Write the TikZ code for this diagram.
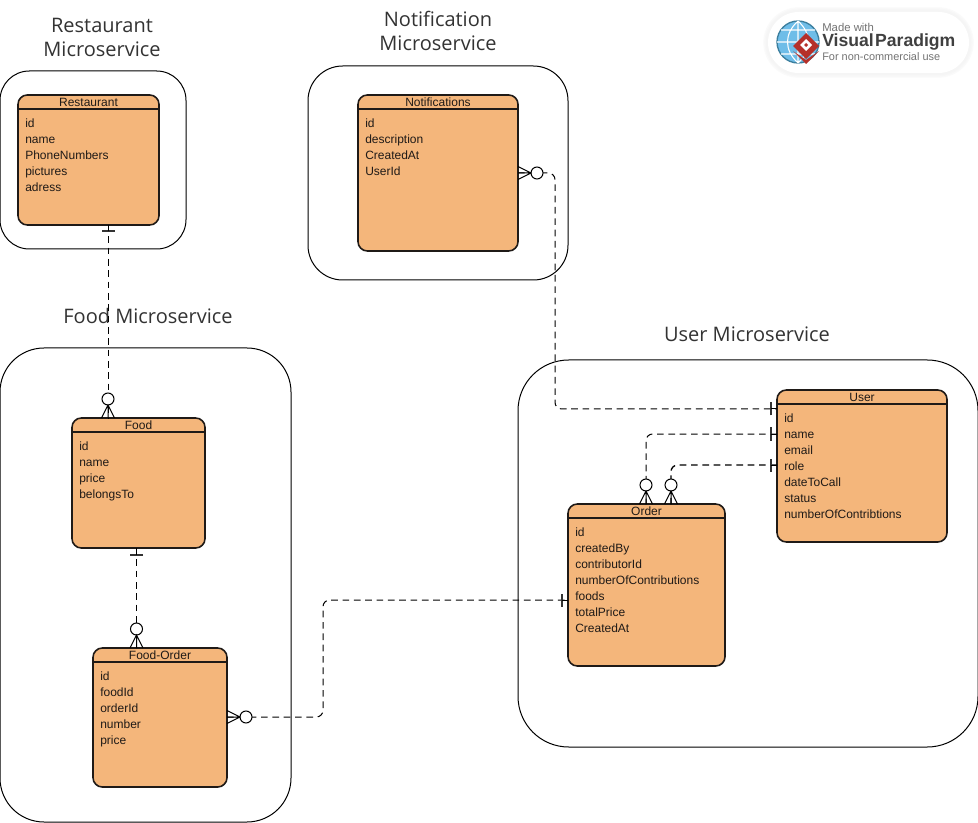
\documentclass[tikz,border=0pt]{standalone}
\usepackage{fontspec}
\setmainfont{Liberation Sans}
\newfontfamily\titlefont{Open Sans}
\usetikzlibrary{calc}
\definecolor{entfill}{HTML}{F4B67B}
\definecolor{inkc}{HTML}{1F1A17}
\definecolor{globefill}{HTML}{6FBDE8}
\definecolor{globeline}{HTML}{3C7F9E}
\definecolor{vpred}{HTML}{B5302A}
\newcommand{\entity}[7]{%
  \node[entitybox,minimum width=#4*0.75pt,minimum height=#5*0.75pt] (#1) at (#2,#3) {};
  \draw[entityline] ($(#1.north west)+(0,14)$) -- ($(#1.north east)+(0,14)$);
  \node[entitytitle] (#1-title) at ($(#1.north)+(0,7)$) {#6};
  \node[attrs] (#1-attrs) at ($(#1.north west)+(1,24)$) {#7};
}
\tikzset{
  x=0.75pt,y=-0.75pt,
  container/.style={draw=black,line width=0.75pt,fill=white,rounded corners=#1,anchor=north west,inner sep=0pt,outer sep=0pt},
  entitybox/.style={draw=inkc,line width=1.2pt,fill=entfill,rounded corners=7pt,anchor=north west,inner sep=0pt,outer sep=0pt},
  entityline/.style={draw=inkc,line width=1pt},
  entitytitle/.style={font=\fontsize{9}{10}\selectfont,text=inkc,inner sep=0pt},
  attrs/.style={font=\fontsize{9}{12}\selectfont,text=inkc,align=left,anchor=north west,inner xsep=4.5pt,inner ysep=0pt},
  conn/.style={draw=black,line width=0.75pt,dash pattern=on 5pt off 3.5pt,rounded corners=5pt},
  grouptitle/.style={font=\titlefont\fontsize{15}{18}\selectfont,text=black!80,align=center,inner sep=0pt},
  crowzero/.pic={
    \draw[line width=0.75pt,fill=white] (0,-19) circle[radius=6];
    \draw[line width=0.75pt] (0,-13) -- (0,0) (-6.5,0) -- (0,-13) -- (6.5,0);
  },
  onebar/.pic={
    \draw[line width=1.5pt,draw=black!80] (-6.5,-6.5) -- (6.5,-6.5);
    \draw[line width=0.75pt] (0,-6.5) -- (0,0);
  },
}
\begin{document}
\begin{tikzpicture}
\useasboundingbox (0,0) rectangle (978,823);
\fill[white] (0,0) rectangle (978,823);
% containers
\node[container=22pt,minimum width=186*0.75pt,minimum height=178*0.75pt] (restbox) at (0,71) {};
\node[container=26pt,minimum width=260*0.75pt,minimum height=214*0.75pt] (notifbox) at (308,66) {};
\node[container=33pt,minimum width=291*0.75pt,minimum height=474*0.75pt] (foodbox) at (0,348) {};
\node[container=38pt,minimum width=460*0.75pt,minimum height=387*0.75pt] (userbox) at (518,360) {};
% group titles
\node[grouptitle] (restname) at (102,37) {Restaurant\\Microservice};
\node[grouptitle] (notifname) at (438,31) {Notification\\Microservice};
\node[grouptitle] (foodname) at (148,316) {Food Microservice};
\node[grouptitle] (username) at (747,334) {User Microservice};
% entities
\entity{rest}{18}{95}{141}{130}{Restaurant}{id\\name\\PhoneNumbers\\pictures\\adress}
\entity{notif}{358}{95}{160}{156}{Notifications}{id\\description\\CreatedAt\\UserId}
\entity{food}{72}{418}{133}{130}{Food}{id\\name\\price\\belongsTo}
\entity{foodorder}{93}{648}{134}{139}{Food-Order}{id\\foodId\\orderId\\number\\price}
\entity{user}{777}{390}{170}{152}{User}{id\\name\\email\\role\\dateToCall\\status\\numberOfContribtions}
\entity{order}{568}{504}{157}{162}{Order}{id\\createdBy\\contributorId\\numberOfContributions\\foods\\totalPrice\\CreatedAt}
% connector ports
\coordinate (pRest) at ($(rest.south west)+(90,0)$);
\coordinate (pFoodTop) at ($(food.north west)+(36,0)$);
\coordinate (pFoodBot) at ($(food.south west)+(64.5,0)$);
\coordinate (pFoTop) at ($(foodorder.north west)+(43.5,0)$);
\coordinate (pFoRight) at ($(foodorder.north east)+(0,69)$);
\coordinate (pOrderLeft) at ($(order.north west)+(0,96)$);
\coordinate (pNotif) at ($(notif.north east)+(0,78)$);
\coordinate (pUser1) at ($(user.north west)+(0,19)$);
\coordinate (pUser2) at ($(user.north west)+(0,44)$);
\coordinate (pUser3) at ($(user.north west)+(0,75)$);
\coordinate (pOrder1) at ($(order.north west)+(78,0)$);
\coordinate (pOrder2) at ($(order.north west)+(103,0)$);
\coordinate (midFo) at (323,660);
\coordinate (midNotif) at (555,300);
% connectors
\draw[conn] (pRest) -- (pFoodTop);
\draw[conn] (pFoodBot) -- (pFoTop);
\draw[conn] (pFoRight) -| (midFo) |- (pOrderLeft);
\draw[conn] (pNotif) -| (midNotif) |- (pUser1);
\draw[conn] (pUser2) -| (pOrder1);
\draw[conn,line width=1pt] (pUser3) -| (pOrder2);
% ends
\pic at (pFoodTop) {crowzero};
\pic at (pFoTop) {crowzero};
\pic[rotate=-90] at (pFoRight) {crowzero};
\pic[rotate=-90] at (pNotif) {crowzero};
\pic at (pOrder1) {crowzero};
\pic at (pOrder2) {crowzero};
\pic[rotate=180] at (pRest) {onebar};
\pic[rotate=180] at (pFoodBot) {onebar};
\pic[rotate=90] at (pUser1) {onebar};
\pic[rotate=90] at (pUser2) {onebar};
\pic[rotate=90] at (pUser3) {onebar};
\pic[rotate=90] at (pOrderLeft) {onebar};
% badge
\foreach \w/\c in {7/98,5/97,3/96}{
  \draw[line width=\w pt,draw=white!\c!black,rounded corners=23pt] (768,12) rectangle (969,73);
}
\node[fill=white,rounded corners=23pt,minimum width=201*0.75pt,minimum height=61*0.75pt,anchor=north west,inner sep=0pt,outer sep=0pt] (badge) at (768,12) {};
\fill[globefill] (798,42) circle[radius=21];
\draw[line width=1pt,draw=globeline] (798,42) circle[radius=21];
\draw[white,line width=0.8pt] (798,21) -- (798,63) (777,42) -- (819,42)
  (798,21) .. controls (784,34) and (784,50) .. (798,63)
  (798,21) .. controls (812,34) and (812,50) .. (798,63)
  (781,30) -- (815,30) (781,54) -- (815,54);
\fill[vpred] (806,33) -- (819,46) -- (806,59) -- (793,46) -- cycle;
\fill[vpred] (793,51) -- (806,64) -- (819,51) -- (806,60) -- cycle;
\fill[white] (806,39) -- (812,45) -- (806,51) -- (800,45) -- cycle;
\fill[vpred] (806,43) -- (808,45) -- (806,47) -- (804,45) -- cycle;
\node[anchor=west,inner sep=0pt,text=black!55,font=\fontsize{8.5}{10}\selectfont] (madewith) at (822,27) {Made with};
\node[anchor=west,inner sep=0pt,text=black!75,font=\fontsize{13.2}{14}\bfseries] (vpname) at (822,42) {Visual\kern1pt Paradigm};
\node[anchor=west,inner sep=0pt,text=black!55,font=\fontsize{8.2}{10}\selectfont] (noncomm) at (822,57) {For non-commercial use};
\end{tikzpicture}
\end{document}
